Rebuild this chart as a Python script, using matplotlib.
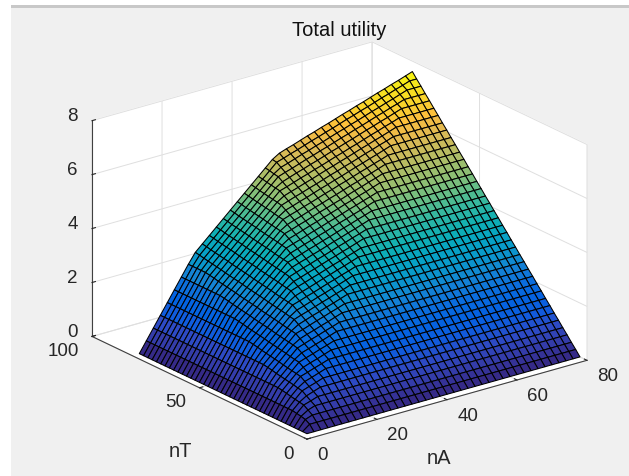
import numpy as np
import matplotlib
matplotlib.use('Agg')
import matplotlib.pyplot as plt
from matplotlib.colors import LinearSegmentedColormap, Normalize
from matplotlib.patches import Rectangle

plt.rcParams['font.family'] = ['Liberation Sans', 'DejaVu Sans']

nA = list(range(0, 80, 2))
nT = list(range(0, 80, 2))
# one row per nT; right of the diagonal the rows stay flat
utility = [
    [0.20] * 40,
    [0.20] + [0.40] * 39,
    [0.20, 0.50] + [0.59] * 38,
    [0.20, 0.54, 0.70] + [0.79] * 37,
    [0.20, 0.57, 0.81, 0.89] + [0.98] * 36,
    [0.20, 0.60, 0.84, 1.00, 1.09] + [1.18] * 35,
    [0.20, 0.60, 0.87, 1.11, 1.20, 1.28] + [1.37] * 34,
    [0.20, 0.60, 0.90, 1.14, 1.31, 1.39, 1.48] + [1.57] * 33,
    [0.20, 0.60, 0.94, 1.18, 1.42, 1.50, 1.59, 1.67] + [1.76] * 32,
    [0.20, 0.60, 0.97, 1.21, 1.45, 1.61, 1.70, 1.78, 1.87] + [1.96] * 31,
    [0.20, 0.60, 1.00, 1.24, 1.48, 1.72, 1.81, 1.89, 1.98, 2.06] + [2.15] * 30,
    [0.20, 0.60, 1.00, 1.27, 1.51, 1.75, 1.92, 2.00, 2.09, 2.17, 2.26] + [2.35] * 29,
    [0.20, 0.60, 1.00, 1.30, 1.54, 1.78, 2.02, 2.11, 2.20, 2.28, 2.37, 2.45] + [2.54] * 28,
    [0.20, 0.60, 1.00, 1.34, 1.58, 1.82, 2.06, 2.22, 2.31, 2.39, 2.48, 2.56, 2.65] + [2.74] * 27,
    [0.20, 0.60, 1.00, 1.37, 1.61, 1.85, 2.09, 2.33, 2.41, 2.50, 2.59, 2.67, 2.76, 2.84] + [2.93] * 26,
    [0.20, 0.60, 1.00, 1.40, 1.64, 1.88, 2.12, 2.36, 2.52, 2.61, 2.70, 2.78, 2.87, 2.95, 3.04] + [3.13] * 25,
    [0.20, 0.60, 1.00, 1.40, 1.67, 1.91, 2.15, 2.39, 2.63, 2.72, 2.80, 2.89, 2.98, 3.06, 3.15, 3.23] + [3.32] * 24,
    [0.20, 0.60, 1.00, 1.40, 1.70, 1.94, 2.18, 2.42, 2.66, 2.83, 2.91, 3.00, 3.09, 3.17, 3.26, 3.34, 3.43] + [3.52] * 23,
    [0.20, 0.60, 1.00, 1.40, 1.74, 1.98, 2.22, 2.46, 2.70, 2.94, 3.02, 3.11, 3.19, 3.28, 3.37, 3.45, 3.54, 3.62] + [3.71] * 22,
    [0.20, 0.60, 1.00, 1.40, 1.77, 2.01, 2.25, 2.49, 2.73, 2.97, 3.13, 3.22, 3.30, 3.39, 3.48, 3.56, 3.65, 3.73, 3.82] + [3.91] * 21,
    [0.20, 0.60, 1.00, 1.40, 1.80, 2.04, 2.28, 2.52, 2.76, 3.00, 3.24, 3.33, 3.41, 3.50, 3.58, 3.67, 3.76, 3.84, 3.93, 4.01] + [4.10] * 20,
    [0.20, 0.60, 1.00, 1.40, 1.80, 2.07, 2.31, 2.55, 2.79, 3.03, 3.27, 3.44, 3.52, 3.61, 3.69, 3.78, 3.87, 3.95, 4.04, 4.12, 4.21] + [4.30] * 19,
    [0.20, 0.60, 1.00, 1.40, 1.80, 2.10, 2.34, 2.58, 2.82, 3.06, 3.30, 3.54, 3.63, 3.72, 3.80, 3.89, 3.97, 4.06, 4.15, 4.23, 4.32, 4.40] + [4.49] * 18,
    [0.20, 0.60, 1.00, 1.40, 1.80, 2.14, 2.38, 2.62, 2.86, 3.10, 3.34, 3.58, 3.74, 3.83, 3.91, 4.00, 4.08, 4.17, 4.26, 4.34, 4.43, 4.51, 4.60] + [4.69] * 17,
    [0.20, 0.60, 1.00, 1.40, 1.80, 2.17, 2.41, 2.65, 2.89, 3.13, 3.37, 3.61, 3.85, 3.93, 4.02, 4.11, 4.19, 4.28, 4.36, 4.45, 4.54, 4.62, 4.71, 4.79] + [4.88] * 16,
    [0.20, 0.60, 1.00, 1.40, 1.80, 2.20, 2.44, 2.68, 2.92, 3.16, 3.40, 3.64, 3.88, 4.04, 4.13, 4.22, 4.30, 4.39, 4.47, 4.56, 4.65, 4.73, 4.82, 4.90, 4.99] + [5.08] * 15,
    [0.20, 0.60, 1.00, 1.40, 1.80, 2.20, 2.47, 2.71, 2.95, 3.19, 3.43, 3.67, 3.91, 4.15, 4.24, 4.32, 4.41, 4.50, 4.58, 4.67, 4.75, 4.84, 4.93, 5.01, 5.10, 5.18] + [5.27] * 14,
    [0.20, 0.60, 1.00, 1.40, 1.80, 2.20, 2.50, 2.74, 2.98, 3.22, 3.46, 3.70, 3.94, 4.18, 4.35, 4.43, 4.52, 4.61, 4.69, 4.78, 4.86, 4.95, 5.04, 5.12, 5.21, 5.29, 5.38] + [5.47] * 13,
    [0.20, 0.60, 1.00, 1.40, 1.80, 2.20, 2.54, 2.78, 3.02, 3.26, 3.50, 3.74, 3.98, 4.22, 4.46, 4.54, 4.63, 4.71, 4.80, 4.89, 4.97, 5.06, 5.14, 5.23, 5.32, 5.40, 5.49, 5.57] + [5.66] * 12,
    [0.20, 0.60, 1.00, 1.40, 1.80, 2.20, 2.57, 2.81, 3.05, 3.29, 3.53, 3.77, 4.01, 4.25, 4.49, 4.65, 4.74, 4.82, 4.91, 5.00, 5.08, 5.17, 5.25, 5.34, 5.43, 5.51, 5.60, 5.68, 5.77] + [5.86] * 11,
    [0.20, 0.60, 1.00, 1.40, 1.80, 2.20, 2.60, 2.84, 3.08, 3.32, 3.56, 3.80, 4.04, 4.28, 4.52, 4.76, 4.85, 4.93, 5.02, 5.10, 5.19, 5.28, 5.36, 5.45, 5.53, 5.62, 5.71, 5.79, 5.88, 5.96] + [6.05] * 10,
    [0.20, 0.60, 1.00, 1.40, 1.80, 2.20, 2.60, 2.87, 3.11, 3.35, 3.59, 3.83, 4.07, 4.31, 4.55, 4.79, 4.96, 5.04, 5.13, 5.21, 5.30, 5.39, 5.47, 5.56, 5.64, 5.73, 5.82, 5.90, 5.99, 6.07, 6.16] + [6.25] * 9,
    [0.20, 0.60, 1.00, 1.40, 1.80, 2.20, 2.60, 2.90, 3.14, 3.38, 3.62, 3.86, 4.10, 4.34, 4.58, 4.82, 5.06, 5.15, 5.24, 5.32, 5.41, 5.49, 5.58, 5.67, 5.75, 5.84, 5.92, 6.01, 6.10, 6.18, 6.27, 6.35] + [6.44] * 8,
    [0.20, 0.60, 1.00, 1.40, 1.80, 2.20, 2.60, 2.94, 3.18, 3.42, 3.66, 3.90, 4.14, 4.38, 4.62, 4.86, 5.10, 5.26, 5.35, 5.43, 5.52, 5.60, 5.69, 5.78, 5.86, 5.95, 6.03, 6.12, 6.21, 6.29, 6.38, 6.46, 6.55] + [6.64] * 7,
    [0.20, 0.60, 1.00, 1.40, 1.80, 2.20, 2.60, 2.97, 3.21, 3.45, 3.69, 3.93, 4.17, 4.41, 4.65, 4.89, 5.13, 5.37, 5.45, 5.54, 5.63, 5.71, 5.80, 5.88, 5.97, 6.06, 6.14, 6.23, 6.31, 6.40, 6.49, 6.57, 6.66, 6.74] + [6.83] * 6,
    [0.20, 0.60, 1.00, 1.40, 1.80, 2.20, 2.60, 3.00, 3.24, 3.48, 3.72, 3.96, 4.20, 4.44, 4.68, 4.92, 5.16, 5.40, 5.56, 5.65, 5.74, 5.82, 5.91, 5.99, 6.08, 6.17, 6.25, 6.34, 6.42, 6.51, 6.60, 6.68, 6.77, 6.85, 6.94] + [7.03] * 5,
    [0.20, 0.60, 1.00, 1.40, 1.80, 2.20, 2.60, 3.00, 3.27, 3.51, 3.75, 3.99, 4.23, 4.47, 4.71, 4.95, 5.19, 5.43, 5.67, 5.76, 5.84, 5.93, 6.02, 6.10, 6.19, 6.27, 6.36, 6.45, 6.53, 6.62, 6.70, 6.79, 6.88, 6.96, 7.05, 7.13] + [7.22] * 4,
    [0.20, 0.60, 1.00, 1.40, 1.80, 2.20, 2.60, 3.00, 3.30, 3.54, 3.78, 4.02, 4.26, 4.50, 4.74, 4.98, 5.22, 5.46, 5.70, 5.87, 5.95, 6.04, 6.13, 6.21, 6.30, 6.38, 6.47, 6.56, 6.64, 6.73, 6.81, 6.90, 6.99, 7.07, 7.16, 7.24, 7.33] + [7.42] * 3,
    [0.20, 0.60, 1.00, 1.40, 1.80, 2.20, 2.60, 3.00, 3.34, 3.58, 3.82, 4.06, 4.30, 4.54, 4.78, 5.02, 5.26, 5.50, 5.74, 5.98, 6.06, 6.15, 6.23, 6.32, 6.41, 6.49, 6.58, 6.66, 6.75, 6.84, 6.92, 7.01, 7.09, 7.18, 7.27, 7.35, 7.44, 7.52] + [7.61] * 2,
    [0.20, 0.60, 1.00, 1.40, 1.80, 2.20, 2.60, 3.00, 3.37, 3.61, 3.85, 4.09, 4.33, 4.57, 4.81, 5.05, 5.29, 5.53, 5.77, 6.01, 6.17, 6.26, 6.34, 6.43, 6.52, 6.60, 6.69, 6.77, 6.86, 6.95, 7.03, 7.12, 7.20, 7.29, 7.38, 7.46, 7.55, 7.63, 7.72, 7.81],
]
parula_colors = ['#352a87', '#343daa', '#2c4bc6', '#0f5cdd', '#0363e1', '#0d6fdc',
                 '#1484d4', '#0a97cc', '#06a4c4', '#0fafb4', '#2eb7a4', '#59bd8c',
                 '#87bf77', '#a5be6a', '#c4bb5e', '#e1b952', '#fdbf3d', '#f9d32c',
                 '#f5e51d', '#f9fb0e']
parula = LinearSegmentedColormap.from_list('parula', parula_colors)

W, H = 629, 477
fig = plt.figure(figsize=(W / 100, H / 100), dpi=100, facecolor='white')
fig.add_artist(Rectangle((11 / W, 0), 1, (H - 8) / H, transform=fig.transFigure, color='#f0f0f0', lw=0, zorder=-2))
fig.add_artist(Rectangle((11 / W, (H - 8.5) / H), 1, 2.5 / H, transform=fig.transFigure, color='#c8c8c8', lw=0, zorder=-1))

S = 560
ax = fig.add_axes([(339.5 - 0.5135 * S) / W, (235.5 - 0.5135 * S) / H, S / W, S / H],
                  projection='3d', proj_type='ortho')
ax.patch.set_alpha(0)
ax.set_zorder(5)
ax.view_init(elev=21.5, azim=-127.5)
ax.set_box_aspect((1, 1, 0.657), zoom=534.4 / S)

X, Y = np.meshgrid(nA, nT)
Z = np.array(utility)
norm = Normalize(Z.min(), Z.max())
ax.plot_surface(X, Y, Z, facecolors=parula(norm(Z)), edgecolor='#000000', linewidth=0.75, shade=False,
                rstride=1, cstride=1)

ax.set_xlim(0, 80, view_margin=0)
ax.set_ylim(0, 100, view_margin=0)
ax.set_zlim(0, 8, view_margin=0)
ax.set_xticks([0, 20, 40, 60, 80])
ax.set_yticks([0, 50, 100])
ax.set_zticks([0, 2, 4, 6, 8])
ax.tick_params(labelsize=13.5, colors='#262626')
ax.tick_params(axis='x', pad=2.2)
ax.tick_params(axis='y', pad=2)
ax.tick_params(axis='z', pad=0.3)
for axis in (ax.xaxis, ax.yaxis, ax.zaxis):
    axis.set_pane_color((1, 1, 1, 1))
    axis.pane.set_edgecolor('white')
    axis.line.set_color('#404040')
    axis.line.set_linewidth(0.8)
    axis._axinfo['grid']['color'] = '#dfdfdf'
    axis._axinfo['grid']['linewidth'] = 0.7
    axis._axinfo['tick']['inward_factor'] = 0.0
    axis._axinfo['tick']['outward_factor'] = 0.15
for t in ax.xaxis.get_major_ticks():
    t.label1.set(ha='left', va='center')
for t in ax.yaxis.get_major_ticks():
    t.label1.set(ha='right', va='center')
for t in ax.zaxis.get_major_ticks():
    t.label1.set(ha='center', va='baseline')
fig.text(339 / W, (H - 31) / H, 'Total utility', fontsize=14.5, color='#111111', ha='center', va='center')
fig.text(439 / W, (H - 459) / H, 'nA', fontsize=14.5, color='#262626', ha='center', va='center')
fig.text(180 / W, (H - 452) / H, 'nT', fontsize=14.5, color='#262626', ha='center', va='center')
fig.savefig('out.png', dpi=100)
